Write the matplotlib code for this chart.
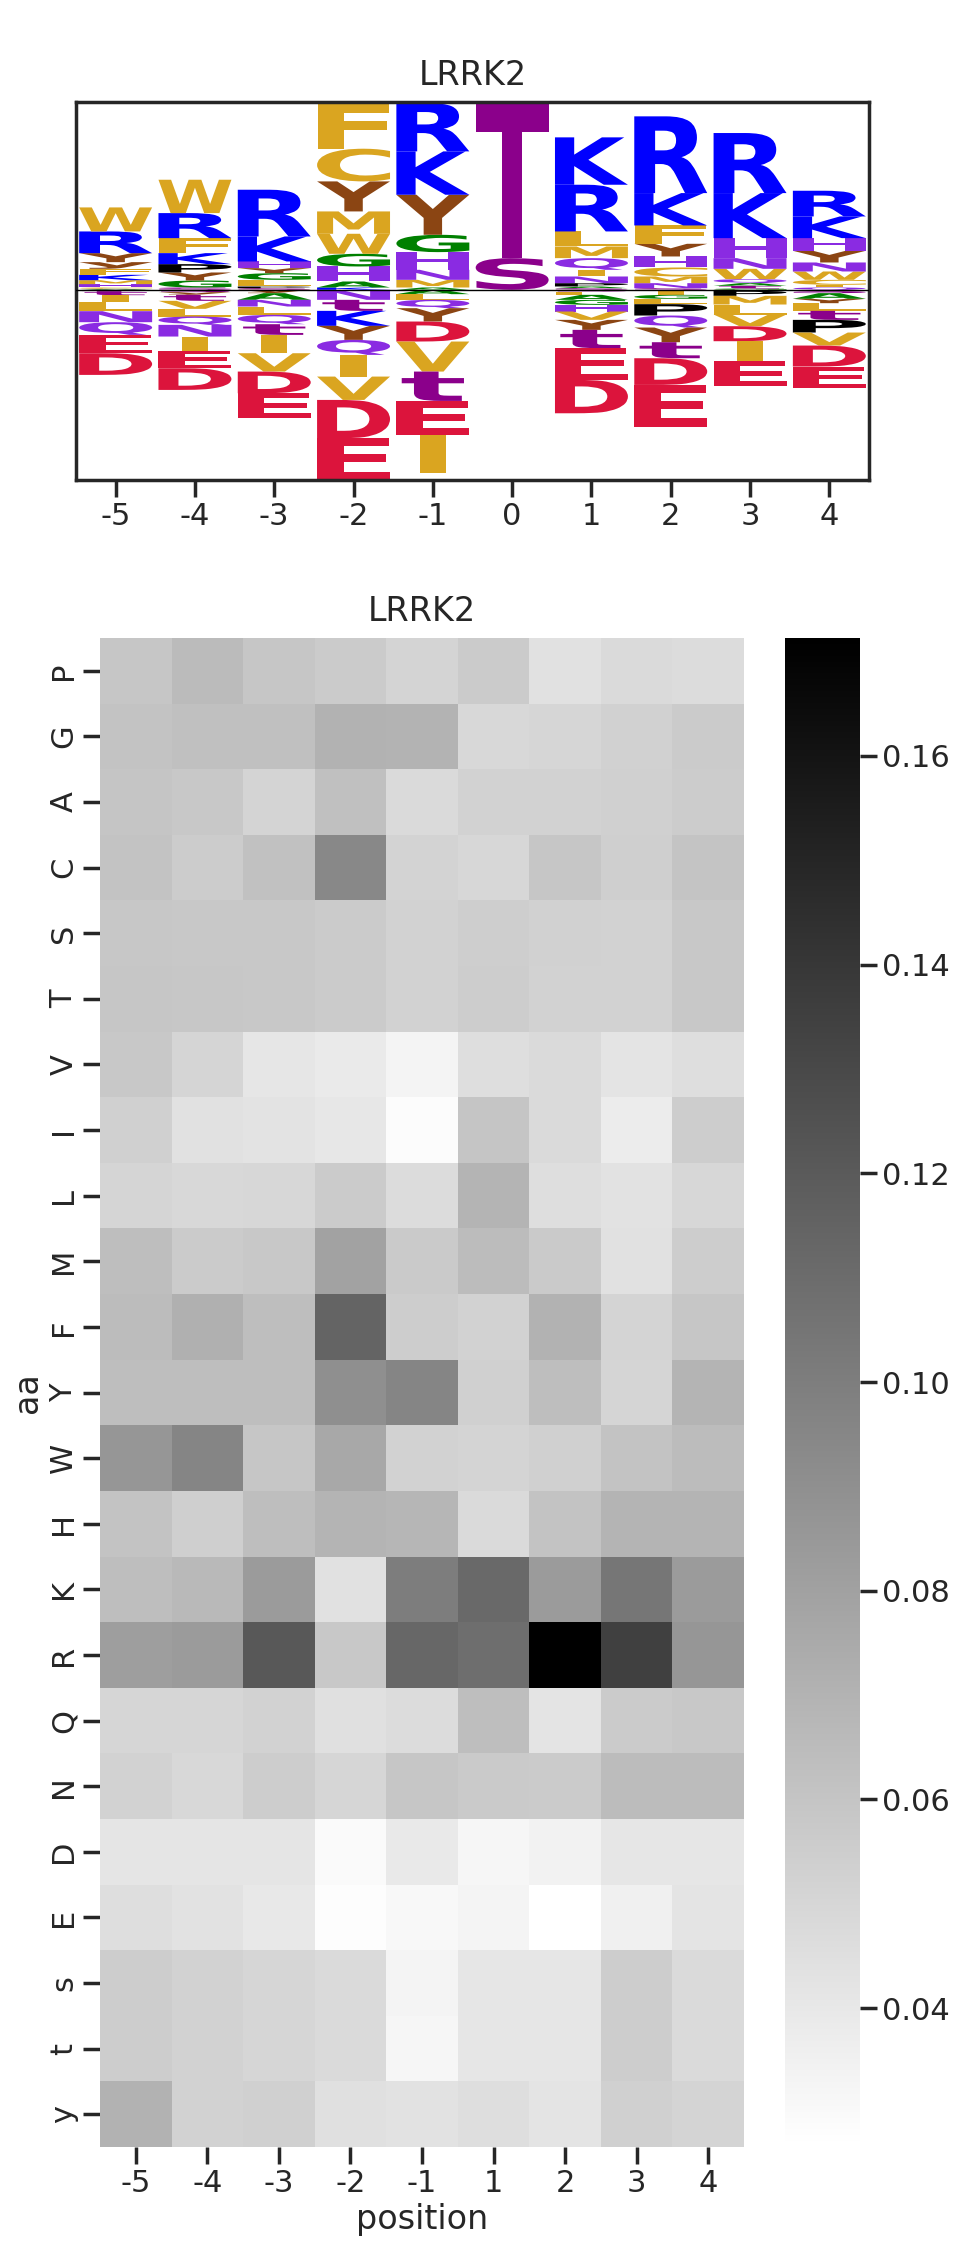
import numpy as np
import pandas as pd
import matplotlib
matplotlib.use("Agg")
import matplotlib.pyplot as plt
import seaborn as sns
from matplotlib.textpath import TextPath
from matplotlib.patches import PathPatch
from matplotlib.font_manager import FontProperties
from matplotlib.transforms import Affine2D

kinase = "LRRK2"

# ---- sequence logo: letters listed from the baseline outwards ----
logo_pos = [-5, -4, -3, -2, -1, 0, 1, 2, 3, 4]
logo_up = [
    [("A", .03), ("C", .04), ("H", .10), ("M", .12), ("K", .16), ("F", .18), ("y", .20), ("Y", .27), ("R", .65), ("W", .72)],
    [("S", .07), ("G", .21), ("Y", .24), ("P", .25), ("K", .33), ("F", .45), ("R", .75), ("W", 1.00)],
    [("S", .05), ("P", .05), ("L", .20), ("G", .20), ("Y", .15), ("H", .20), ("K", .75), ("R", 1.40)],
    [("K", .07), ("A", .18), ("H", .45), ("G", .38), ("W", .60), ("M", .67), ("Y", .90), ("C", .98), ("F", 1.34)],
    [("A", .07), ("M", .23), ("N", .30), ("H", .53), ("G", .52), ("Y", 1.20), ("K", 1.30), ("R", 1.45)],
    [("S", .95), ("T", 4.68)],
    [("S", .05), ("A", .05), ("P", .10), ("N", .20), ("I", .20), ("Q", .35), ("M", .35), ("L", .45), ("R", 1.40), ("K", 1.42)],
    [("S", .05), ("N", .15), ("M", .20), ("C", .27), ("H", .33), ("Y", .38), ("F", .55), ("K", .97), ("R", 2.30)],
    [("G", .04), ("t", .08), ("A", .08), ("Q", .12), ("W", .31), ("N", .32), ("H", .60), ("K", 1.35), ("R", 1.80)],
    [("Q", .07), ("I", .08), ("C", .15), ("W", .25), ("N", .27), ("Y", .35), ("H", .38), ("K", .65), ("R", .77)],
]
logo_down = [
    [("s", .04), ("t", .12), ("I", .20), ("L", .28), ("N", .33), ("Q", .38), ("E", .55), ("D", .65)],
    [("s", .07), ("y", .08), ("t", .18), ("V", .24), ("L", .23), ("Q", .25), ("N", .35), ("I", .43), ("E", .52), ("D", .65)],
    [("y", .10), ("A", .20), ("N", .20), ("L", .25), ("Q", .28), ("t", .32), ("I", .55), ("V", .55), ("D", .65), ("E", .75)],
    [("N", .30), ("t", .33), ("K", .45), ("Y", .42), ("Q", .45), ("I", .65), ("V", .70), ("D", 1.15), ("E", 1.25)],
    [("A", .13), ("L", .17), ("Q", .25), ("Y", .40), ("D", .60), ("V", .90), ("t", .88), ("E", 1.02), ("I", 1.15)],
    [],
    [("s", .05), ("F", .10), ("A", .15), ("G", .15), ("H", .20), ("V", .25), ("Y", .30), ("t", .55), ("E", .95), ("D", 1.00)],
    [("I", .15), ("G", .12), ("L", .16), ("P", .34), ("Q", .36), ("Y", .44), ("t", .48), ("D", .80), ("E", 1.25)],
    [("y", .03), ("P", .15), ("M", .26), ("L", .30), ("V", .35), ("D", .45), ("I", .60), ("E", .75)],
    [("S", .10), ("A", .17), ("Y", .13), ("L", .23), ("t", .27), ("P", .38), ("V", .39), ("D", .63), ("E", .65)],
]

# ---- heatmap ----
aa = ["P", "G", "A", "C", "S", "T", "V", "I", "L", "M", "F", "Y", "W", "H",
      "K", "R", "Q", "N", "D", "E", "s", "t", "y"]
positions = ["-5", "-4", "-3", "-2", "-1", "1", "2", "3", "4"]
freq = np.array([
    [0.0590, 0.0653, 0.0590, 0.0562, 0.0511, 0.0562, 0.0437, 0.0477, 0.0466],  # P
    [0.0607, 0.0624, 0.0624, 0.0704, 0.0698, 0.0488, 0.0500, 0.0528, 0.0562],  # G
    [0.0596, 0.0579, 0.0511, 0.0624, 0.0477, 0.0522, 0.0522, 0.0534, 0.0556],  # A
    [0.0607, 0.0556, 0.0619, 0.0942, 0.0517, 0.0494, 0.0590, 0.0539, 0.0602],  # C
    [0.0585, 0.0579, 0.0579, 0.0562, 0.0522, 0.0545, 0.0528, 0.0522, 0.0579],  # S
    [0.0590, 0.0585, 0.0579, 0.0562, 0.0522, 0.0551, 0.0522, 0.0522, 0.0579],  # T
    [0.0579, 0.0505, 0.0409, 0.0386, 0.0330, 0.0454, 0.0477, 0.0420, 0.0454],  # V
    [0.0534, 0.0437, 0.0426, 0.0403, 0.0284, 0.0596, 0.0477, 0.0375, 0.0551],  # I
    [0.0505, 0.0488, 0.0494, 0.0562, 0.0466, 0.0692, 0.0454, 0.0432, 0.0494],  # L
    [0.0636, 0.0562, 0.0579, 0.0794, 0.0568, 0.0647, 0.0568, 0.0437, 0.0551],  # M
    [0.0647, 0.0715, 0.0636, 0.1146, 0.0551, 0.0522, 0.0704, 0.0511, 0.0590],  # F
    [0.0636, 0.0636, 0.0636, 0.0902, 0.0959, 0.0534, 0.0636, 0.0505, 0.0692],  # Y
    [0.0863, 0.0959, 0.0590, 0.0760, 0.0522, 0.0511, 0.0534, 0.0607, 0.0647],  # W
    [0.0607, 0.0539, 0.0636, 0.0692, 0.0681, 0.0477, 0.0607, 0.0692, 0.0692],  # H
    [0.0636, 0.0664, 0.0834, 0.0437, 0.1004, 0.1118, 0.0834, 0.1044, 0.0834],  # K
    [0.0817, 0.0834, 0.1214, 0.0579, 0.1129, 0.1089, 0.1713, 0.1350, 0.0863],  # R
    [0.0500, 0.0500, 0.0522, 0.0443, 0.0466, 0.0636, 0.0420, 0.0562, 0.0579],  # Q
    [0.0522, 0.0488, 0.0551, 0.0500, 0.0590, 0.0568, 0.0562, 0.0647, 0.0647],  # N
    [0.0415, 0.0415, 0.0415, 0.0296, 0.0392, 0.0318, 0.0341, 0.0409, 0.0409],  # D
    [0.0454, 0.0432, 0.0398, 0.0279, 0.0307, 0.0330, 0.0267, 0.0352, 0.0420],  # E
    [0.0551, 0.0522, 0.0500, 0.0477, 0.0330, 0.0409, 0.0409, 0.0551, 0.0477],  # s
    [0.0551, 0.0522, 0.0500, 0.0477, 0.0318, 0.0409, 0.0409, 0.0551, 0.0477],  # t
    [0.0704, 0.0522, 0.0534, 0.0443, 0.0432, 0.0454, 0.0420, 0.0534, 0.0511],  # y
])

letter_color = {}
for c in "RK":
    letter_color[c] = "blue"
for c in "HNQ":
    letter_color[c] = "blueviolet"
for c in "DE":
    letter_color[c] = "crimson"
for c in "FWMCLIV":
    letter_color[c] = "goldenrod"
for c in "AG":
    letter_color[c] = "green"
for c in "Yy":
    letter_color[c] = "saddlebrown"
for c in "STst":
    letter_color[c] = "darkmagenta"
letter_color["P"] = "black"

sns.set_style("ticks")
sns.set_context("poster")
plt.rcParams["font.family"] = ["DejaVu Sans"]

fp = FontProperties(family="DejaVu Sans", weight="bold")
e_width = TextPath((0, 0), "E", size=1, prop=fp).get_extents().width


def add_letter(ax, ch, x, floor, height, width=0.92):
    path = TextPath((0, 0), ch, size=1, prop=fp)
    bb = path.get_extents()
    sx = min(width / bb.width, width / e_width)
    sy = height / bb.height
    tr = Affine2D().translate(-bb.x0 - bb.width / 2, -bb.y0).scale(sx, sy).translate(x, floor)
    ax.add_patch(PathPatch(tr.transform_path(path), facecolor=letter_color[ch],
                           edgecolor="none", lw=0))


fig = plt.figure(figsize=(9.54, 22.47), dpi=100)

# logo
ax1 = fig.add_axes([76 / 954, 1 - 480 / 2247, 793 / 954, 378 / 2247])
top, bottom = 0, 0
for x, ups, downs in zip(logo_pos, logo_up, logo_down):
    y = 0
    for ch, h in ups:
        add_letter(ax1, ch, x, y, h)
        y += h
    top = max(top, y)
    y = 0
    for ch, h in downs:
        y -= h
        add_letter(ax1, ch, x, y, h)
    bottom = min(bottom, y)
ax1.axhline(0, color="black", lw=1, zorder=3)
ax1.set_xlim(logo_pos[0] - 0.5, logo_pos[-1] + 0.5)
ax1.set_ylim(bottom, top)
ax1.set_xticks(logo_pos)
ax1.set_xticklabels([str(p) for p in logo_pos])
ax1.set_yticks([])
ax1.set_title(kinase, pad=12)

# heatmap
ax2 = fig.add_axes([100 / 954, 1 - 2147 / 2247, 644 / 954, 1509 / 2247])
cax = fig.add_axes([785 / 954, 1 - 2147 / 2247, 75 / 954, 1509 / 2247])
df = pd.DataFrame(freq, index=aa, columns=positions)
sns.heatmap(df, cmap="gray_r", ax=ax2, cbar_ax=cax)
ax2.set_yticklabels(aa, rotation=90, va="center")
ax2.set_xticklabels(positions, rotation=0)
ax2.set_xlabel("position")
ax2.set_ylabel("aa")
ax2.set_title(kinase, pad=12)

fig.savefig("out.png", dpi=100)
